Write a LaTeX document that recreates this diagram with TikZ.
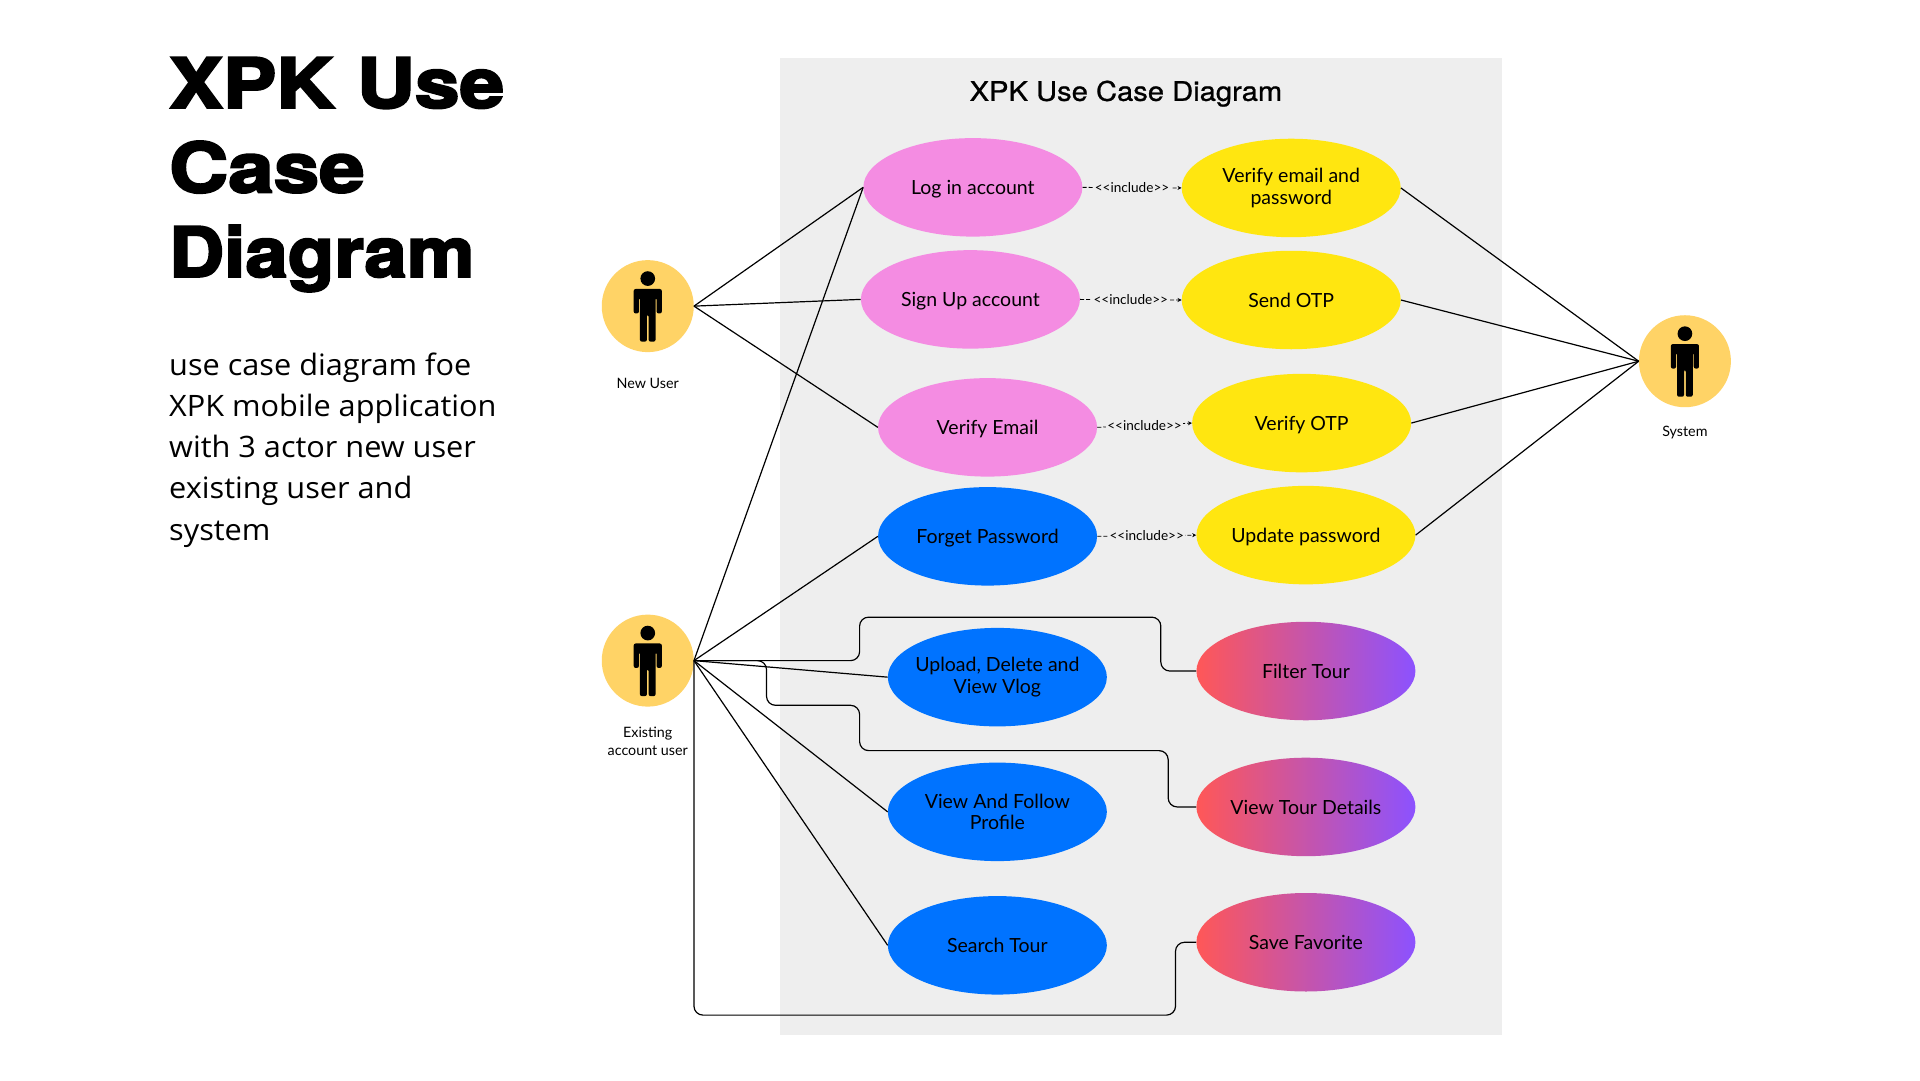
\documentclass[tikz,border=0pt]{standalone}
\usepackage{fontspec}
\usetikzlibrary{shapes.geometric,arrows.meta}
\setmainfont{Lato}
\newfontfamily\heavyfont[FakeBold=3.2,FakeStretch=1.14]{TeX Gyre Heros Bold}
\newfontfamily\subheadfont[FakeBold=0.9,FakeStretch=1.08]{TeX Gyre Heros}
\newfontfamily\bodyfont[FakeStretch=1.04]{Open Sans}
\definecolor{panelgray}{HTML}{EEEEEE}
\definecolor{pinkcase}{HTML}{F48CE2}
\definecolor{yellowcase}{HTML}{FFE610}
\definecolor{bluecase}{HTML}{0073FF}
\definecolor{actorfill}{HTML}{FFD366}
\definecolor{gradred}{HTML}{FF5757}
\definecolor{gradpurple}{HTML}{8C52FF}
\tikzset{
  x=1.2245pt,y=-1.2245pt,
  usecase/.style={ellipse,minimum width=219pt,minimum height=98.5pt,inner sep=-10pt,align=center,
    font=\fontsize{19.5}{21.5}\selectfont,text=black},
  oneline/.style={text height=15pt,text depth=0pt},
  pinkuc/.style={usecase,fill=pinkcase},
  yellowuc/.style={usecase,fill=yellowcase},
  blueuc/.style={usecase,fill=bluecase},
  graduc/.style={usecase,left color=gradred,right color=gradpurple,shading angle=90},
  actorc/.style={circle,fill=actorfill,minimum size=92pt,inner sep=0pt},
  actorlabel/.style={font=\fontsize{14.3}{18}\selectfont,align=center,inner sep=0pt},
  link/.style={draw=black,line width=1.2pt},
  elbow/.style={link,rounded corners=9pt},
  incl/.style={draw=black,line width=0.8pt,dash pattern=on 4pt off 2pt,-{Stealth[length=4pt,width=4pt]}},
  incllabel/.style={font=\fontsize{13.6}{14}\selectfont,fill=panelgray,inner sep=1.5pt},
  bigtitle/.style={font=\heavyfont\fontsize{69}{69}\selectfont,anchor=base west,inner sep=0pt},
  bodytext/.style={font=\bodyfont\fontsize{29.5}{36}\selectfont,anchor=base west,inner sep=0pt},
  person/.pic={
    \fill[black] (0,-22.5) circle[radius=6];
    \fill[black,rounded corners=2pt] (-11.5,6)--(-11.5,-14)--(11.5,-14)--(11.5,6)--(7.2,6)--(7.2,-7)--(6.4,-7)--(6.4,29)--(0.7,29)--(0.7,7)--(-0.7,7)--(-0.7,29)--(-6.4,29)--(-6.4,-7)--(-7.2,-7)--(-7.2,6)--cycle;
  }
}
\begin{document}
\begin{tikzpicture}
\useasboundingbox (0,0) rectangle (1568,882);
\fill[white] (0,0) rectangle (1568,882);
\fill[panelgray] (637,47) rectangle (1227,845);

\node[bigtitle] (t1) at (138,88) {\scalebox{1.022}[1]{XPK Use}};
\node[bigtitle] (t2) at (138,157) {\scalebox{1.04}[1]{Case}};
\node[bigtitle] (t3) at (138,226) {\scalebox{0.969}[1]{Diagram}};
\node[bodytext] (b1) at (138,307) {use case diagram foe};
\node[bodytext] (b2) at (138,340.5) {XPK mobile application};
\node[bodytext] (b3) at (138,374) {with 3 actor new user};
\node[bodytext] (b4) at (138,407.5) {existing user and};
\node[bodytext] (b5) at (138,441) {system};
\node[font=\subheadfont\fontsize{27}{30}\selectfont,inner sep=0pt] (ptitle) at (919.5,76.5) {XPK Use Case Diagram};

\node[actorc] (nu) at (529,250) {};
\node[actorc] (eu) at (529,539.5) {};
\node[actorc] (sy) at (1376,295) {};
\pic at (nu) {person};
\pic at (eu) {person};
\pic at (sy) {person};
\node[actorlabel] (nul) at (529,313) {New User};
\node[actorlabel] (eul) at (529,605.5) {Existing\\account user};
\node[actorlabel] (syl) at (1376,353.5) {System};

\node[pinkuc,oneline] (login) at (794.5,153) {Log in account};
\node[pinkuc,oneline] (signup) at (792.5,244.5) {Sign Up account};
\node[pinkuc,oneline] (vemail) at (806.5,349) {Verify Email};
\node[blueuc,oneline] (forget) at (806.5,438) {Forget Password};
\node[blueuc] (upload) at (814.5,553) {Upload, Delete and\\View Vlog};
\node[blueuc] (follow) at (814.5,663) {View And Follow\\Profile};
\node[blueuc,oneline] (search) at (814.5,772) {Search Tour};
\node[yellowuc] (vpass) at (1054.5,153.5) {Verify email and\\password};
\node[yellowuc,oneline] (sendotp) at (1054.5,245) {Send OTP};
\node[yellowuc,oneline] (votp) at (1063,345.5) {Verify OTP};
\node[yellowuc,oneline] (update) at (1066.5,437) {Update password};
\node[graduc,oneline] (filter) at (1066.5,548) {Filter Tour};
\node[graduc,oneline] (tourd) at (1066.5,659) {View Tour Details};
\node[graduc,oneline] (save) at (1066.5,769.5) {Save Favorite};

\draw[incl] (login.east) -- node[incllabel] (i1) {{<}{<}include{>}{>}} (vpass.west);
\draw[incl] (signup.east) -- node[incllabel] (i2) {{<}{<}include{>}{>}} (sendotp.west);
\draw[incl] (vemail.east) -- node[incllabel] (i3) {{<}{<}include{>}{>}} (votp.west);
\draw[incl] (forget.east) -- node[incllabel] (i4) {{<}{<}include{>}{>}} (update.west);

\draw[link] (nu.east) -- (login.west);
\draw[link] (nu.east) -- (signup.west);
\draw[link] (nu.east) -- (vemail.west);
\draw[link] (eu.east) -- (login.west);
\draw[link] (eu.east) -- (forget.west);
\draw[link] (eu.east) -- (upload.west);
\draw[link] (eu.east) -- (follow.west);
\draw[link] (eu.east) -- (search.west);
\coordinate (fa) at (702,504);
\coordinate (fb) at (948,504);
\draw[elbow] (eu.east) -- (eu.east -| fa) -- (fa) -- (fb) -- (fb |- filter.west) -- (filter.west);
\coordinate (ta) at (626,576);
\coordinate (tb) at (702,576);
\coordinate (tc) at (702,613);
\coordinate (td) at (954,613);
\draw[elbow] (eu.east) -- (eu.east -| ta) -- (ta) -- (tb) -- (tc) -- (td) -- (td |- tourd.west) -- (tourd.west);
\coordinate (sa) at (0,829);
\coordinate (sb) at (960,829);
\draw[elbow] (eu.east) -- (eu.east |- sa) -- (sb) -- (sb |- save.west) -- (save.west);
\draw[link] (vpass.east) -- (sy.west);
\draw[link] (sendotp.east) -- (sy.west);
\draw[link] (votp.east) -- (sy.west);
\draw[link] (update.east) -- (sy.west);
\end{tikzpicture}
\end{document}
